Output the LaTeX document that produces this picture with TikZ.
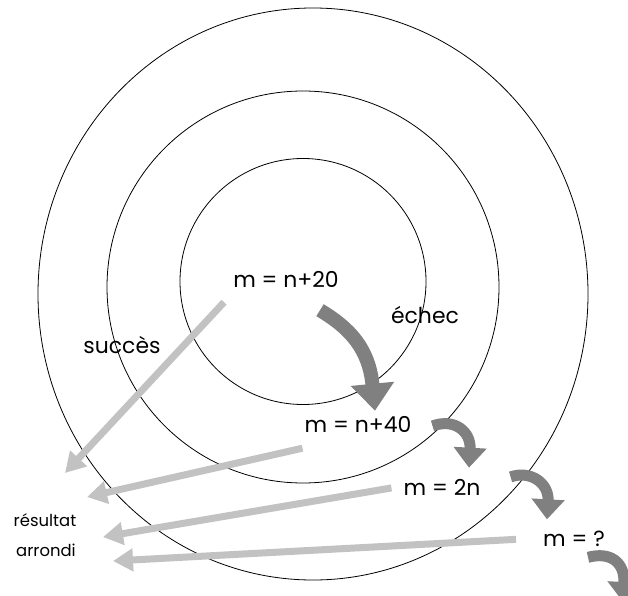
\documentclass[tikz,border=0pt]{standalone}
\usepackage{fontspec}
\setmainfont{Poppins}
\usetikzlibrary{arrows.meta}
\definecolor{okgray}{gray}{0.76}
\definecolor{failgray}{gray}{0.5}
\tikzset{
  eq/.style={font=\fontsize{22}{26}\selectfont,inner sep=0pt,anchor=base},
  note/.style={font=\fontsize{16.5}{19}\selectfont,inner sep=0pt,anchor=base},
  okarrow/.style={draw=okgray,line width=7bp,-{Triangle[length=20bp,width=22bp]}},
  failarrow/.style={draw=failgray,line width=11bp,-{Triangle[length=20bp,width=32bp]}},
}
\begin{document}
\begin{tikzpicture}[x=1bp,y=-1bp]
\useasboundingbox (0,0) rectangle (628,596);
% rings
\draw[line width=0.8bp] (303,281.5) circle[radius=123];
\draw[line width=0.8bp] (303,287) circle[radius=196];
\draw[line width=0.8bp] (313,294) ellipse[x radius=275,y radius=286];

% labels
\node[eq] (n20) at (286,287) {m = n+20};
\node[eq] (n40) at (358,432) {m = n+40};
\node[eq] (twon) at (442,495) {m = 2n};
\node[eq] (unk) at (574,546) {m = ?};
\node[eq] (echec) at (425,323) {échec};
\node[eq] (succes) at (122,353) {succès};
\node[note] (res) at (45,526) {résultat};
\node[note] (arr) at (46,556) {arrondi};

% where the light arrows end
\coordinate (r1) at (65,473);
\coordinate (r2) at (87,497);
\coordinate (r3) at (103,537);
\coordinate (r4) at (113,561);
\coordinate (more) at (623,602);

% success: back to the result
\draw[okarrow] ([xshift=-9bp,yshift=-15bp]n20.south west) -- (r1);
\draw[okarrow] ([xshift=-2bp,yshift=-16bp]n40.south west) -- (r2);
\draw[okarrow] ([xshift=-12bp,yshift=-1bp]twon.west) -- (r3);
\draw[okarrow] ([xshift=-27bp,yshift=-1bp]unk.west) -- (r4);

% failure: next step
\draw[failarrow,line width=14bp,-{Triangle[length=27bp,width=42bp]}]
  ([xshift=34bp,yshift=-23bp]n20.south) .. controls +(30,18) and +(-6,-62) .. ([xshift=17bp,yshift=5bp]n40.north);
\draw[failarrow]
  ([xshift=21bp,yshift=-2bp]n40.east) .. controls +(22,-8) and +(2,-36) .. ([xshift=27bp,yshift=11bp]twon.north);
\draw[failarrow]
  ([xshift=30bp,yshift=10bp]twon.east) .. controls +(20,-7) and +(2,-36) .. ([xshift=-27bp,yshift=11bp]unk.north);
\draw[failarrow]
  ([xshift=-17bp,yshift=-11bp]unk.south east) .. controls +(22,-6) and +(2,-40) .. (more);
\end{tikzpicture}
\end{document}
